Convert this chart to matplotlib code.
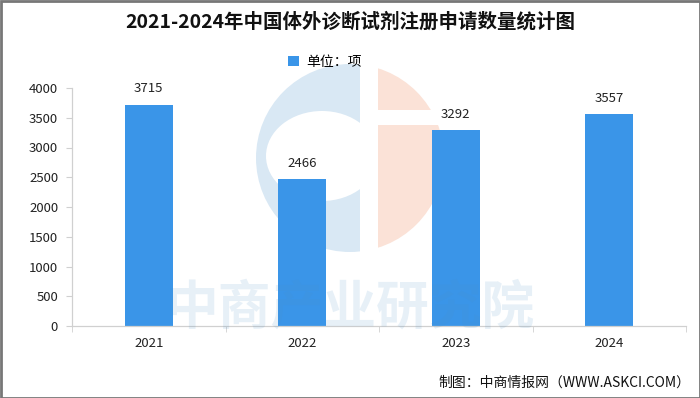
import matplotlib
matplotlib.use("Agg")
import matplotlib.pyplot as plt
from matplotlib.patches import Circle, Ellipse, Rectangle

plt.rcParams['font.family'] = ['Noto Sans CJK SC', 'DejaVu Sans']

years = ['2021', '2022', '2023', '2024']
values = [3715, 2466, 3292, 3557]
yticks = [0, 500, 1000, 1500, 2000, 2500, 3000, 3500, 4000]
title = '2021-2024年中国体外诊断试剂注册申请数量统计图'
legend_label = '单位：项'
source = '制图：中商情报网（WWW.ASKCI.COM）'
watermark = '中商产业研究院'

W, H = 700, 398
fig = plt.figure(figsize=(W / 100, H / 100), dpi=100)
fig.patch.set_facecolor('white')

# background watermark logo (decorative)
bax = fig.add_axes([0, 0, 1, 1], zorder=0)
bax.set_xlim(0, W)
bax.set_ylim(H, 0)
bax.axis('off')
cx, cy, r = 350, 158, 94
blue_c = Circle((cx, cy), r, facecolor='#d9e8f4', lw=0)
bax.add_patch(blue_c)
blue_c.set_clip_path(Rectangle((0, 0), 360, H, transform=bax.transData))
hole = Ellipse((cx - 28, cy - 2), 112, 90, facecolor='white', lw=0)
bax.add_patch(hole)
hole.set_clip_path(Rectangle((0, 0), 360, H, transform=bax.transData))
sal_top = Circle((cx, cy), r, facecolor='#fbe2d7', lw=0)
bax.add_patch(sal_top)
sal_top.set_clip_path(Rectangle((378, 0), 200, 110, transform=bax.transData))
sal_bot = Circle((cx, cy), r, facecolor='#fbe2d7', lw=0)
bax.add_patch(sal_bot)
sal_bot.set_clip_path(Rectangle((378, 125), 200, 200, transform=bax.transData))

ax = fig.add_axes([72 / W, 1 - 326 / H, (686 - 72) / W, (326 - 88) / H], zorder=1)
bar_color = '#3a95e8'
x = list(range(len(years)))
bars = ax.bar(x, values, width=0.31, color=bar_color, zorder=2, label=legend_label)
for xi, v in zip(x, values):
    ax.text(xi, v + 160, str(v), ha='center', va='bottom', fontsize=9.5, color='#222222')

ax.set_xlim(-0.5, len(years) - 0.5)
ax.set_ylim(0, 4000)
ax.set_yticks(yticks)
ax.set_yticklabels([str(t) for t in yticks], fontsize=9.5, color='#222222')
ax.set_xticks(x)
ax.set_xticklabels(years, fontsize=9.5, color='#222222')
ax.set_xticks([i + 0.5 for i in range(-1, len(years))], minor=True)
ax.tick_params(axis='x', which='major', length=0, pad=8)
ax.tick_params(axis='x', which='minor', length=4, color='#d0d0d0', direction='out')
ax.tick_params(axis='y', length=4, color='#d0d0d0', pad=6)
for s in ['top', 'right']:
    ax.spines[s].set_visible(False)
for s in ['left', 'bottom']:
    ax.spines[s].set_color('#d0d0d0')
    ax.spines[s].set_linewidth(0.9)
ax.set_facecolor('none')

leg = fig.legend(handles=[bars], labels=[legend_label], loc='center',
                 bbox_to_anchor=(325 / W, 1 - 62 / H), frameon=False,
                 fontsize=10, handlelength=0.8, handleheight=0.8, handletextpad=0.5)

fig.text(0.5, 1 - 22 / H, title, ha='center', va='center', fontsize=14,
         fontweight='bold', color='#111111')
fig.text(690 / W, 1 - 383 / H, source, ha='right', va='center', fontsize=10,
         color='#111111')

# foreground watermark text + frame
wax = fig.add_axes([0, 0, 1, 1], zorder=5)
wax.set_xlim(0, W)
wax.set_ylim(H, 0)
wax.axis('off')
wax.text(350, 308, watermark, ha='center', va='center', fontsize=38,
         color='#4a90c8', alpha=0.13, fontweight='bold')
wax.add_patch(Rectangle((0.5, 0.5), W - 1, H - 1, fill=False, edgecolor='#777777', lw=2))

fig.savefig('out.png', dpi=100, facecolor='white')
